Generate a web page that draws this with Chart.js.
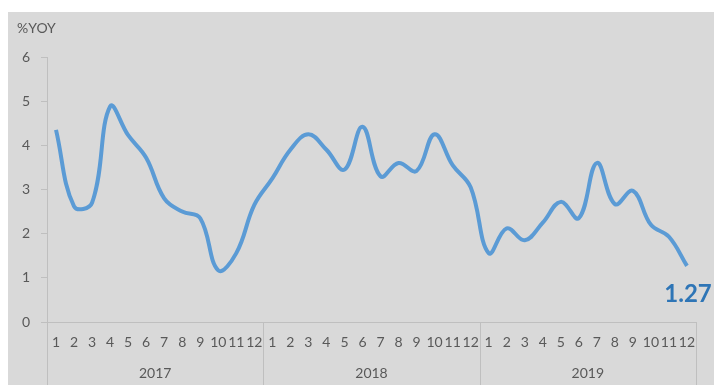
<!DOCTYPE html>
<html>
<head>
<meta charset="utf-8">
<script src="https://cdn.jsdelivr.net/npm/chart.js@4.4.1/dist/chart.umd.min.js"></script>
<style>
    body { margin: 0; background: #ffffff; }
    #box { position: absolute; left: 8px; top: 12px; width: 706px; height: 373px; background: #d9d9d9; }
    #canvasChart { display: block; }
</style>
</head>
<body>
<div id="box"><canvas id="canvasChart" width="706" height="373"></canvas></div>
<script>
// values, %YOY by month
var years = ['2017', '2018', '2019'];
var months = ['1', '2', '3', '4', '5', '6', '7', '8', '9', '10', '11', '12'];
var yoy2017 = [4.35, 2.62, 2.7, 4.88, 4.23, 3.72, 2.8, 2.5, 2.35, 1.17, 1.56, 2.65];
var yoy2018 = [3.25, 3.9, 4.25, 3.9, 3.45, 4.42, 3.3, 3.6, 3.42, 4.25, 3.55, 3.05];
var yoy2019 = [1.56, 2.12, 1.85, 2.25, 2.72, 2.35, 3.6, 2.67, 2.97, 2.2, 1.93, 1.27];
var yTicks = [0, 1, 2, 3, 4, 5, 6];

var labels = [];
years.forEach(function() { labels = labels.concat(months); });
var values = yoy2017.concat(yoy2018, yoy2019);

var textColor = '#595959';
var lineColor = '#bfbfbf';
var font = 'Lato';

// year separators under the axis and the %YOY caption
var extras = {
    id: 'extras',
    afterDraw: function(chart) {
        var ctx = chart.ctx;
        var x = chart.scales.x;
        ctx.save();
        ctx.strokeStyle = lineColor;
        ctx.lineWidth = 1;
        for (var i = 0; i <= labels.length; i += months.length) {
            var px;
            if (i === 0) px = x.left;
            else if (i === labels.length) px = x.right;
            else px = (x.getPixelForValue(i - 1) + x.getPixelForValue(i)) / 2;
            px = Math.round(px) + 0.5;
            ctx.beginPath();
            ctx.moveTo(px, x.top);
            ctx.lineTo(px, chart.height);
            ctx.stroke();
        }
        ctx.fillStyle = textColor;
        ctx.font = '14px ' + font;
        ctx.textBaseline = 'middle';
        ctx.fillText('%YOY', 9, 16);
        ctx.restore();
    },
    afterDatasetsDraw: function(chart) {
        var meta = chart.getDatasetMeta(0);
        var last = meta.data[meta.data.length - 1];
        var ctx = chart.ctx;
        ctx.save();
        ctx.fillStyle = '#2e75b6';
        ctx.font = 'bold 24px ' + font;
        ctx.textAlign = 'center';
        ctx.textBaseline = 'middle';
        ctx.fillText(values[values.length - 1].toFixed(2), last.x + 1, last.y + 28);
        ctx.restore();
    }
};

var ctx = document.getElementById('canvasChart').getContext('2d');
var myChart = new Chart(ctx, {
    type: 'line',
    data: {
        labels: labels,
        datasets: [{
            label: '%YOY',
            data: values,
            borderColor: '#5b9bd5',
            borderWidth: 4,
            pointRadius: 0,
            tension: 0.4,
            fill: false
        }]
    },
    options: {
        responsive: false,
        animation: false,
        layout: { padding: { left: 8, right: 18, top: 45, bottom: 0 } },
        plugins: {
            legend: { display: false },
            tooltip: { enabled: false }
        },
        scales: {
            x: {
                type: 'category',
                offset: true,
                weight: 0,
                grid: { display: true, drawOnChartArea: false, drawTicks: false },
                border: { display: true, color: lineColor, width: 1 },
                ticks: {
                    color: textColor,
                    font: { family: font, size: 14 },
                    padding: 12,
                    autoSkip: false,
                    maxRotation: 0,
                    minRotation: 0
                },
                afterFit: function(scale) { scale.height = 35; }
            },
            year: {
                type: 'category',
                axis: 'x',
                position: 'bottom',
                labels: years,
                offset: true,
                weight: 1,
                grid: { display: false },
                border: { display: false },
                ticks: {
                    color: textColor,
                    font: { family: font, size: 14 },
                    padding: 0,
                    maxRotation: 0
                },
                afterFit: function(scale) { scale.height = 28; }
            },
            y: {
                min: yTicks[0],
                max: yTicks[yTicks.length - 1],
                grid: { display: true, drawOnChartArea: false, drawTicks: true, tickLength: 6, color: lineColor },
                border: { display: true, color: lineColor, width: 1 },
                ticks: {
                    stepSize: 1,
                    color: textColor,
                    font: { family: font, size: 14 },
                    padding: 11
                },
                afterFit: function(scale) { scale.width = 31; }
            }
        }
    },
    plugins: [extras]
});
</script>
</body>
</html>
